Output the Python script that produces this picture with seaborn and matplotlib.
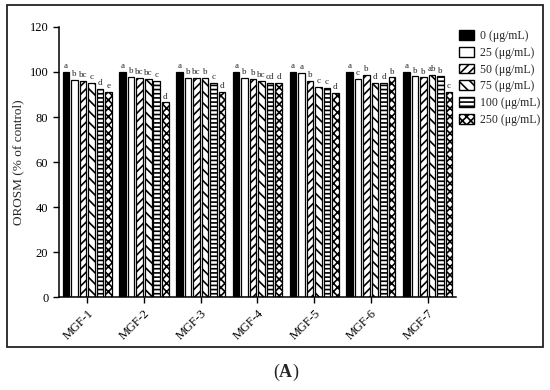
import pandas as pd
import matplotlib.pyplot as plt
import seaborn as sns
from matplotlib.patches import Patch, Rectangle

# Data
extracts = ["MGF-1", "MGF-2", "MGF-3", "MGF-4", "MGF-5", "MGF-6", "MGF-7"]
doses = ["0 (μg/mL)", "25 (μg/mL)", "50 (μg/mL)", "75 (μg/mL)", "100 (μg/mL)", "250 (μg/mL)"]

dose_0 = [100, 100, 100, 100, 100, 100, 100]
dose_25 = [96.3, 97.8, 97.5, 97.2, 99.6, 97.0, 98.0]
dose_50 = [96.0, 97.2, 97.5, 97.0, 96.2, 98.6, 97.6]
dose_75 = [95.2, 97.0, 97.2, 96.0, 93.2, 95.2, 98.6]
dose_100 = [92.6, 96.0, 95.0, 95.0, 93.0, 95.2, 98.0]
dose_250 = [91.0, 86.5, 91.0, 95.0, 90.8, 97.6, 91.0]

let_0 = ["a", "a", "a", "a", "a", "a", "a"]
let_25 = ["b", "b", "b", "b", "a", "c", "b"]
let_50 = ["bc", "bc", "bc", "b", "b", "b", "b"]
let_75 = ["c", "bc", "b", "bc", "c", "d", "ab"]
let_100 = ["d", "c", "c", "cd", "c", "d", "b"]
let_250 = ["e", "d", "d", "d", "d", "b", "c"]

values = [dose_0, dose_25, dose_50, dose_75, dose_100, dose_250]
letters = [let_0, let_25, let_50, let_75, let_100, let_250]

rows = []
for d, vals in zip(doses, values):
    for e, v in zip(extracts, vals):
        rows.append({"extract": e, "dose": d, "value": v})
df = pd.DataFrame(rows)

sns.set_style("ticks")
plt.rcParams["font.family"] = ["Liberation Serif", "DejaVu Serif"]
plt.rcParams["hatch.linewidth"] = 1.2

fills = ["black", "white", "white", "white", "white", "white"]
hatches = ["", "", "////", "\\\\\\", "----", "xxxx"]

fig = plt.figure(figsize=(5.5, 3.9), dpi=100)
ax = fig.add_axes([0.107, 0.238, 0.722, 0.693])

sns.barplot(data=df, x="extract", y="value", hue="dose", hue_order=doses,
            order=extracts, palette=fills, edgecolor="black", linewidth=0.9,
            width=0.9, gap=0.22, legend=False, ax=ax)

for i, bars in enumerate(ax.containers):
    for j, bar in enumerate(bars):
        bar.set_hatch(hatches[i])
        bar.set_facecolor(fills[i])
        bar.set_edgecolor("black")
        ax.text(bar.get_x() + bar.get_width() / 2, bar.get_height() + 0.8,
                letters[i][j], ha="center", va="bottom", fontsize=6.5)

ax.set_xlim(-0.5, 6.5)
ax.set_ylim(0, 120)
ax.set_yticks(range(0, 121, 20))
ax.set_xlabel("")
ax.set_ylabel("OROSM (% of control)", fontsize=9.5)
ax.tick_params(axis="y", labelsize=9, length=4, width=1, colors="black")
ax.tick_params(axis="x", labelsize=9, length=4, width=1, colors="black")
for lbl in ax.get_xticklabels():
    lbl.set_rotation(45)
    lbl.set_ha("right")
    lbl.set_rotation_mode("anchor")
sns.despine(ax=ax)
for s in ["left", "bottom"]:
    ax.spines[s].set_color("black")
    ax.spines[s].set_linewidth(1.1)

handles = [Patch(facecolor=fills[i], edgecolor="black", hatch=hatches[i], label=doses[i])
           for i in range(6)]
fig.legend(handles=handles, loc="upper left", bbox_to_anchor=(0.826, 0.935),
           frameon=False, fontsize=8.5, handlelength=1.3, handleheight=0.9,
           labelspacing=0.4, handletextpad=0.5, borderaxespad=0)

fig.text(0.507, 0.045, "(", fontsize=13, ha="right", va="center")
fig.text(0.507, 0.045, "A", fontsize=13, ha="left", va="center", fontweight="bold")
fig.text(0.532, 0.045, ")", fontsize=13, ha="left", va="center")

fig.patches.append(Rectangle((0.013, 0.11), 0.974, 0.877, transform=fig.transFigure,
                             fill=False, edgecolor="#222222", linewidth=1.3))

plt.savefig("out.png", dpi=100)
plt.close()
